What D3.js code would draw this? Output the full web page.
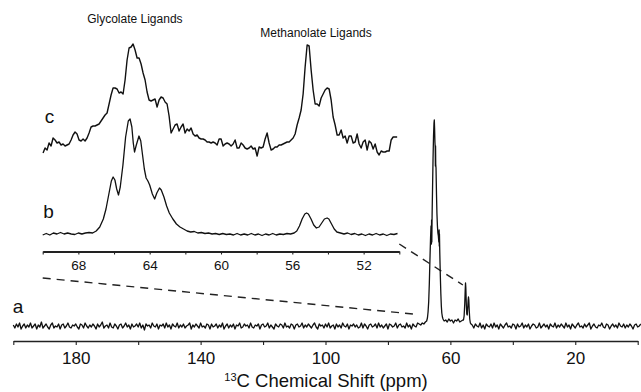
<!DOCTYPE html>
<html><head><meta charset="utf-8">
<script src="https://cdn.jsdelivr.net/npm/d3@7"></script>
<style>body{margin:0;background:#fff}svg{display:block}</style>
</head><body>
<svg id="chart" width="641" height="392"></svg>
<script>
// ---------- DATA ----------
const mainTicks = [200,180,160,140,120,100,80,60,40,20,0];
const mainTickLabels = [180,140,100,60,20];
const insetTicks = [70,68,66,64,62,60,58,56,54,52,50];
const insetTickLabels = [68,64,60,56,52];
const traceLabels = ["a","b","c"];
const peakLabels = ["Glycolate Ligands","Methanolate Ligands"];
const peakLabelPpm = [64.83, 54.67];

// spectrum a (full range), baseline-noise segments sampled every 0.5 ppm
const aLeftStart = 200, aMidStart = 61.5, aRightStart = 53.0, aStep = 0.5;
const aLeft = [1,-2,2,-1,3,-3,0,2,-2,1, -1,3,-2,0,2,-3,1,-1,4,-2, 0,2,-1,-3,1,3,-2,0,-1,2,
 -3,1,2,-2,0,3,-1,-2,1,0, 2,-1,-3,2,1,-2,3,0,-2,1, -1,2,0,-3,2,-1,1,4,-2,0,
 1,-2,3,-1,-2,2,0,-3,1,2, -2,0,3,-1,1,-3,2,-1,0,2, -1,3,-2,1,-4,2,0,1,-2,3,
 0,-1,2,-3,1,0,2,-2,3,-1, 1,-3,2,0,-1,3,-2,1,-1,2, -2,0,1,3,-3,1,-1,2,0,-2,
 3,-1,0,-2,2,1,-3,2,-1,0, 2,-2,1,-1,3,-3,0,2,-2,1, -1,2,-3,1,0,3,-2,-1,2,0,
 1,-2,3,-1,-2,1,0,2,-3,1, 2,-1,0,3,-2,1,-1,-3,2,0, -1,2,1,-2,3,-1,0,-2,2,1,
 -3,1,2,-1,0,3,-2,1,-1,2, 0,-2,1,3,-1,-3,2,0,1,-2, 2,-1,3,-2,0,1,-3,2,-1,1,
 -2,3,0,-1,2,-3,1,0,2,-1, 1,-2,-1,3,-2,2,0,-3,1,2, -1,0,2,-2,3,-1,1,-2,0,2,
 -3,2,1,-1,0,3,-2,1,2,-1, 0,-2,3,-1,1,-3,2,0,-1,3, 2,1,3,2,4];
const aPeak = [[67.6,5],[67.35,8],[67.15,14],[66.95,24],[66.75,42],[66.55,66],[66.35,88],[66.2,100],
 [66.08,82],[66.02,106],[65.95,84],[65.85,112],[65.7,140],[65.55,168],[65.4,190],[65.25,203],
 [65.15,206],[65.05,197],[64.95,184],[64.85,178],[64.8,160],[64.75,180],[64.7,162],[64.6,158],
 [64.45,132],[64.3,112],[64.15,100],[64.0,93],[63.85,90],[63.7,84],[63.6,96],[63.55,80],
 [63.5,92],[63.4,74],[63.22,50],[63.05,32],[62.9,20],[62.75,13],[62.55,9],[62.35,7],[62.2,6],[62.0,5]];
const aMid = [6,4,7,5,6,3,6,5,7,4,5,6];
const aSmall = [[55.8,6],[55.6,10],[55.4,22],[55.25,36],[55.15,43],[55.05,38],[54.9,22],[54.75,12],
 [54.6,11],[54.45,18],[54.3,26],[54.2,29],[54.1,26],[53.95,15],[53.8,7],[53.6,3],[53.4,2]];
const aRight = [1,-2,2,0,-1,3,-2,1,-3,2, 0,-1,2,-2,3,-1,1,-3,2,0, -2,1,3,-1,0,-2,2,1,-3,2,
 -1,0,3,-2,1,-1,2,-3,0,2, 1,-2,-1,3,-2,0,2,-1,1,-3, 2,0,-1,3,-2,1,-1,2,0,-2,
 3,-1,1,-3,2,0,-2,1,3,-1, 0,-2,2,-1,1,3,-3,0,2,-1, -2,1,0,3,-1,-2,2,1,-3,0,
 2,-1,1,-2,3,0,-1,2,-2,1, -1,2,0,-3,1,2,-1,0,2];

// spectrum b (inset, lower)
const bData = [[70.0,0],[69.8,1.5],[69.6,0],[69.4,2],[69.2,1],[69.0,2.5],[68.8,1],[68.6,2],[68.4,1],
 [68.2,0.5],[68.0,2],[67.8,1],[67.6,2],[67.4,2.5],[67.2,2],[67.0,4],[66.8,8],[66.6,16],[66.45,26],
 [66.3,40],[66.15,54],[66.05,58],[65.95,55],[65.85,46],[65.75,40],[65.65,48],[65.5,70],[65.35,98],
 [65.2,114],[65.1,116],[65.0,108],[64.92,92],[64.85,83],[64.75,90],[64.6,99],[64.5,94],[64.4,80],
 [64.3,66],[64.2,57],[64.1,54],[64.0,50],[63.85,41],[63.72,36],[63.6,42],[63.45,47],[63.35,45],
 [63.2,38],[63.05,29],[62.9,22],[62.7,16],[62.5,11],[62.3,8],[62.1,6],[61.9,4],[61.7,3],[61.5,3.5],
 [61.3,2],[61.1,2.5],[60.9,1.5],[60.7,2],[60.5,1],[60.3,1.5],[60.1,0.5],[59.9,1.5],[59.7,0.5],
 [59.5,1],[59.3,0],[59.1,1.5],[58.9,0],[58.7,1],[58.5,0],[58.3,1.5],[58.1,0],[57.9,1],[57.7,-0.5],
 [57.5,1],[57.3,0],[57.1,1.5],[56.9,0],[56.7,1],[56.5,0.5],[56.3,1.5],[56.1,1],[55.9,2],[55.75,4],
 [55.6,9],[55.45,16],[55.3,21],[55.2,22],[55.1,21],[54.95,16],[54.8,10],[54.65,7],[54.5,8],
 [54.35,12],[54.2,16],[54.05,17],[53.95,16],[53.8,11],[53.65,6],[53.5,3],[53.3,2],[53.1,1],
 [52.9,2],[52.7,0.5],[52.5,1.5],[52.3,0],[52.1,1],[51.9,-0.5],[51.7,1],[51.5,0],[51.3,1.5],
 [51.1,0],[50.9,1],[50.7,-0.5],[50.5,1],[50.3,0.5],[50.1,1.5]];

// spectrum c (inset, upper), sampled every 0.1122 ppm from 69.98
const cStart = 69.98, cStep = 0.1122;
const cData = [2,7,5,12,9,17,15,12,13,10, 11,9,10,11,15,20,23,21,15,14, 16,14,17,22,28,29,29,30,31,34,
 37,40,42,51,60,67,67,66,62,63, 61,75,95,107,108,111,105,97,97,91, 82,75,63,55,54,55,56,48,55,58,
 57,53,51,39,22,26,30,31,24,28, 31,22,26,24,27,21,19,20,17,16, 16,15,13,13,12,13,12,10,16,16,
 9,11,12,11,9,11,15,7,7,12, 10,7,6,7,9,6,7,-1,8,7, 8,16,22,12,5,6,8,8,10,10,
 11,12,13,13,15,17,21,30,37,45, 61,88,110,109,85,65,51,51,49,57, 61,65,67,66,55,38,30,20,20,25,
 17,19,12,19,19,12,13,21,11,7, 13,15,5,14,12,6,11,3,0,4, 3,3,4,4,15,18,18,18];

// connector (dashed) lines: [inset ppm, a-level] -> [main ppm, a-level]
const connectors = [[[70,48],[72,12]],[[50,82],[56,41]]];

// ---------- CHART ----------
const svg = d3.select("#chart");
const FONT = "'Liberation Sans', Arial, Helvetica, sans-serif";

const xMain = d3.scaleLinear().domain([200,0]).range([13.3,637.7]);
const yA = d3.scaleLinear().domain([0,206]).range([326,120]);
const xIn = d3.scaleLinear().domain([70,50]).range([42.7,399.3]);
const yB = d3.scaleLinear().domain([0,116]).range([235,119]);
const yC = d3.scaleLinear().domain([0,100]).range([155,55]);

const aSeries = [].concat(
  aLeft.map((v,i)=>[aLeftStart - i*aStep, v]),
  aPeak,
  aMid.map((v,i)=>[aMidStart - i*aStep, v]),
  aSmall,
  aRight.map((v,i)=>[aRightStart - i*aStep, v])
);
const cSeries = cData.map((v,i)=>[cStart - i*cStep, v]);

function drawLine(data, xs, ys, w){
  svg.append("path").datum(data)
    .attr("fill","none").attr("stroke","#111").attr("stroke-width",w)
    .attr("stroke-linejoin","round")
    .attr("d", d3.line().x(d=>xs(d[0])).y(d=>ys(d[1])));
}

// dashed connectors
connectors.forEach(c=>{
  svg.append("line")
    .attr("x1", xIn(c[0][0])).attr("y1", yA(c[0][1]))
    .attr("x2", xMain(c[1][0])).attr("y2", yA(c[1][1]))
    .attr("stroke","#222").attr("stroke-width",1.4).attr("stroke-dasharray","8,6");
});

drawLine(aSeries, xMain, yA, 1.3);
drawLine(bData, xIn, yB, 1.3);
drawLine(cSeries, xIn, yC, 1.4);

// main axis
const axMain = svg.append("g").attr("transform","translate(0,341)")
  .call(d3.axisBottom(xMain).tickValues(mainTicks).tickSize(4).tickSizeOuter(0)
    .tickFormat(d=> mainTickLabels.includes(d) ? d : ""));
axMain.select(".domain").attr("stroke","#222").attr("stroke-width",1.6);
axMain.selectAll(".tick line").attr("stroke","#222").attr("stroke-width",1.1);
axMain.selectAll(".tick text").attr("font-family",FONT).attr("font-size",17)
  .attr("fill","#111").attr("dy",0).attr("y",22.5);

// inset axis
const axIn = svg.append("g").attr("transform","translate(0,251.5)")
  .call(d3.axisBottom(xIn).tickValues(insetTicks).tickSize(3).tickSizeOuter(0)
    .tickFormat(d=> insetTickLabels.includes(d) ? d : ""));
axIn.select(".domain").attr("stroke","#222").attr("stroke-width",1.8);
axIn.selectAll(".tick line").attr("stroke","#222").attr("stroke-width",1.1);
axIn.selectAll(".tick text").attr("font-family",FONT).attr("font-size",13.5)
  .attr("fill","#111").attr("dy",0).attr("y",18.5);

// axis title
const title = svg.append("text").attr("x",326).attr("y",387)
  .attr("text-anchor","middle").attr("font-family",FONT).attr("font-size",18.5).attr("fill","#111");
title.append("tspan").attr("font-size",11).attr("dy",-6.5).text("13");
title.append("tspan").attr("dy",6.5).text("C Chemical Shift (ppm)");

// trace labels
const labelPos = [[xMain(200)-0.5, yA(13)],[xIn(70)+0.5, yB(17)],[xIn(70)+2, yC(32)]];
traceLabels.forEach((t,i)=>{
  svg.append("text").attr("x",labelPos[i][0]).attr("y",labelPos[i][1])
    .attr("font-family",FONT).attr("font-size",19).attr("fill","#111").text(t);
});

// peak labels
const peakLabelY = [23, 37];
peakLabels.forEach((t,i)=>{
  svg.append("text").attr("x",xIn(peakLabelPpm[i])).attr("y",peakLabelY[i])
    .attr("text-anchor","middle").attr("font-family",FONT).attr("font-size",12)
    .attr("fill","#111").text(t);
});
</script>
</body></html>
